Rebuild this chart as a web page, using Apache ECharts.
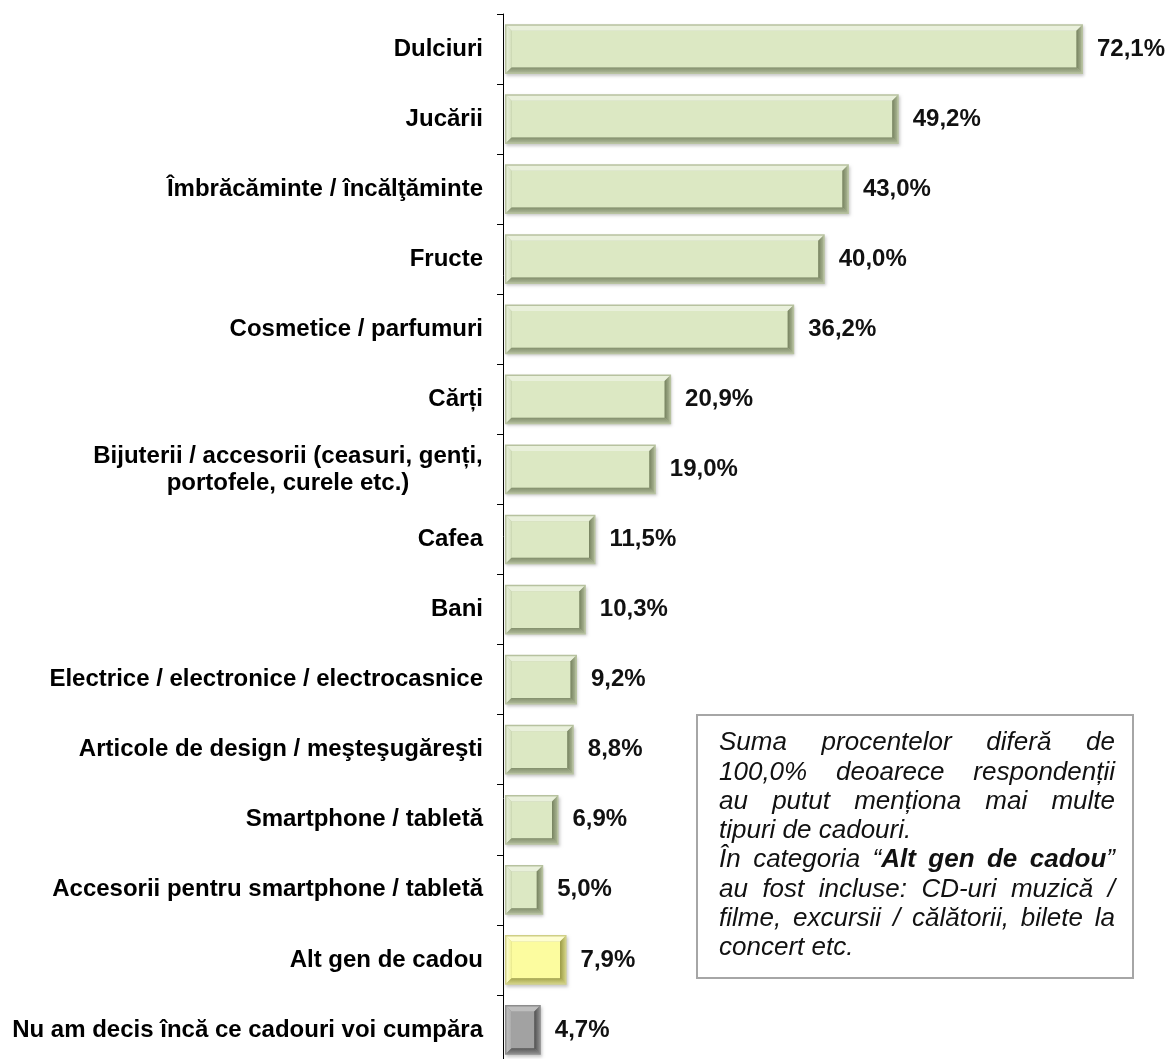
<!DOCTYPE html>
<html>
<head>
<meta charset="utf-8">
<script src="https://cdn.jsdelivr.net/npm/echarts@6/dist/echarts.min.js"></script>
<style>
  html, body { margin: 0; padding: 0; background: #fff; overflow: hidden; }
  #main { width: 1168px; height: 1059px; }
</style>
</head>
<body>
<div id="main"></div>
<script>
// categorii (de sus in jos)
var categories = [
  'Dulciuri',
  'Jucării',
  'Îmbrăcăminte / încălţăminte',
  'Fructe',
  'Cosmetice / parfumuri',
  'Cărți',
  'Bijuterii / accesorii (ceasuri, genți,\nportofele, curele etc.)',
  'Cafea',
  'Bani',
  'Electrice / electronice / electrocasnice',
  'Articole de design / meşteşugăreşti',
  'Smartphone / tabletă',
  'Accesorii pentru smartphone / tabletă',
  'Alt gen de cadou',
  'Nu am decis încă ce cadouri voi cumpăra'
]
var values = [72.1, 49.2, 43.0, 40.0, 36.2, 20.9, 19.0, 11.5, 10.3, 9.2, 8.8, 6.9, 5.0, 7.9, 4.7]

// textul din caseta (*...* = bold)
var noteLines = [
  'Suma procentelor diferă de',
  '100,0% deoarece respondenții',
  'au putut menționa mai multe',
  'tipuri de cadouri.',
  'În categoria “*Alt* *gen* *de* *cadou*”',
  'au fost incluse: CD-uri muzică /',
  'filme, excursii / călătorii, bilete la',
  'concert etc.'
]
var noteJustify = [true, true, true, false, true, true, true, false]

// culori bare
var palettes = {
  green: { frame: '#b7c29f', face: '#dce8c3', light: '#e9f0db', side: '#d3dfba', darkIn: '#76825f', darkOut: '#a7b290', bottomIn: '#838f6c', bottomOut: '#aab595' },
  yellow: { frame: '#cfcf86', face: '#fcfc9f', light: '#fefed2', side: '#f2f292', darkIn: '#9a9a45', darkOut: '#cbcb7a', bottomIn: '#a5a54e', bottomOut: '#cfcf80' },
  grey: { frame: '#8c8c8c', face: '#a2a2a2', light: '#bebebe', side: '#ababab', darkIn: '#505050', darkOut: '#858585', bottomIn: '#5a5a5a', bottomOut: '#888888' }
}
function paletteFor (name) {
  if (name === 'Alt gen de cadou') return palettes.yellow
  if (name.indexOf('Nu am decis') === 0) return palettes.grey
  return palettes.green
}
function fmt (v) {
  return v.toFixed(1).replace('.', ',') + '%'
}

var labelFont = 'Arial, "Liberation Sans"'
var ctx = document.createElement('canvas').getContext('2d')

var myChart = echarts.init(document.getElementById('main'))

function grad (x0, y0, x1, y1, c0, c1) {
  return new echarts.graphic.LinearGradient(x0, y0, x1, y1, [
    { offset: 0, color: c0 }, { offset: 1, color: c1 }
  ])
}

function renderBar (params, api) {
  var v = api.value(0)
  var idx = api.value(1)
  var start = api.coord([0, idx])
  var end = api.coord([v, idx])
  var h = api.size([0, 1])[1] * 0.71
  var X0 = start[0] + 2
  var X1 = end[0]
  var Y0 = start[1] - h / 2
  var Y1 = Y0 + h
  var x0 = X0 + 1.5
  var x1 = X1 - 1.5
  var y0 = Y0 + 1.5
  var y1 = Y1 - 1.5
  var b = 5
  var p = paletteFor(categories[idx])
  return {
    type: 'group',
    children: [
      { type: 'rect', shape: { x: X0, y: Y0, width: X1 - X0, height: h },
        style: { fill: p.frame, shadowBlur: 3, shadowColor: 'rgba(0,0,0,0.22)', shadowOffsetX: 1, shadowOffsetY: 2 } },
      { type: 'rect', shape: { x: x0 + b, y: y0 + b, width: x1 - x0 - 2 * b, height: y1 - y0 - 2 * b }, style: { fill: p.face } },
      { type: 'polygon', shape: { points: [[x0, y0], [x1, y0], [x1 - b, y0 + b], [x0 + b, y0 + b]] }, style: { fill: p.light } },
      { type: 'polygon', shape: { points: [[x0, y0], [x0 + b, y0 + b], [x0 + b, y1 - b], [x0, y1]] },
        style: { fill: grad(0, 0, 1, 0, p.light, p.side) } },
      { type: 'polygon', shape: { points: [[x1, y0], [x1, y1], [x1 - b, y1 - b], [x1 - b, y0 + b]] },
        style: { fill: grad(0, 0, 1, 0, p.darkIn, p.darkOut) } },
      { type: 'polygon', shape: { points: [[x0, y1], [x0 + b, y1 - b], [x1 - b, y1 - b], [x1, y1]] },
        style: { fill: grad(0, 0, 0, 1, p.bottomIn, p.bottomOut) } },
      { type: 'text', x: X1 + 14, y: start[1],
        style: { text: fmt(v), fontFamily: labelFont, fontSize: 24, fontWeight: 'bold', fill: '#111', align: 'left', verticalAlign: 'middle' } }
    ]
  }
}

// caseta de text justificata
var noteSize = 26
function measure (text, bold) {
  ctx.font = 'italic ' + (bold ? 'bold ' : '') + noteSize + 'px ' + labelFont
  return ctx.measureText(text).width
}
function parseWord (w) {
  var parts = w.split('*')
  var segs = []
  parts.forEach(function (t, i) {
    if (t) segs.push({ t: t, bold: i % 2 === 1 })
  })
  return segs
}
var noteLeft = 719
var noteRight = 1115
var noteTop = 743
var noteStep = 29.3
var noteGraphics = [{
  type: 'rect', shape: { x: 697, y: 715, width: 436, height: 263 },
  style: { fill: '#fff', stroke: '#a6a6a6', lineWidth: 2 }, z: 10
}]
noteLines.forEach(function (line, li) {
  var words = line.split(' ').map(parseWord)
  var widths = words.map(function (segs) {
    return segs.reduce(function (s, g) { return s + measure(g.t, g.bold) }, 0)
  })
  var total = widths.reduce(function (a, c) { return a + c }, 0)
  var gap = measure(' ', false)
  if (noteJustify[li] && words.length > 1) gap = (noteRight - noteLeft - total) / (words.length - 1)
  var x = noteLeft
  words.forEach(function (segs, wi) {
    var text = segs.map(function (g) {
      return '{' + (g.bold ? 'b' : 'n') + '|' + g.t + '}'
    }).join('')
    noteGraphics.push({
      type: 'text', x: x, y: noteTop + li * noteStep, z: 11,
      style: {
        text: text, align: 'left', verticalAlign: 'middle', fill: '#111',
        rich: {
          n: { fontFamily: labelFont, fontSize: noteSize, fontStyle: 'italic', fontWeight: 'normal' },
          b: { fontFamily: labelFont, fontSize: noteSize, fontStyle: 'italic', fontWeight: 'bold' }
        }
      }
    })
    x += widths[wi] + gap
  })
})

// eticheta pe doua randuri, centrata
ctx.font = 'bold 24px ' + labelFont
var multiWidth = 0
categories.forEach(function (c) {
  if (c.indexOf('\n') >= 0) {
    c.split('\n').forEach(function (l) { multiWidth = Math.max(multiWidth, ctx.measureText(l).width) })
  }
})

var option = {
  backgroundColor: '#fff',
  animation: false,
  grid: { left: 503, top: 14, width: 643.5, height: 1051, containLabel: false, outerBoundsMode: 'none' },
  xAxis: { type: 'value', min: 0, max: 80, show: false },
  yAxis: {
    type: 'category',
    data: categories,
    inverse: true,
    axisLine: { show: true, lineStyle: { color: '#000', width: 1 } },
    axisTick: { show: true, length: 6, inside: false, lineStyle: { color: '#000' } },
    axisLabel: {
      margin: 20,
      color: '#000',
      fontFamily: labelFont,
      fontSize: 24,
      fontWeight: 'bold',
      formatter: function (val) {
        if (val.indexOf('\n') < 0) return val
        return val.split('\n').map(function (l) {
          return '{c|' + l + '}'
        }).join('\n')
      },
      rich: {
        c: { align: 'center', width: Math.ceil(multiWidth), fontFamily: labelFont, fontSize: 24, fontWeight: 'bold', color: '#000', lineHeight: 27 }
      }
    }
  },
  series: [{
    type: 'custom',
    renderItem: renderBar,
    encode: { x: 0, y: 1 },
    data: values.map(function (v, i) { return [v, i] })
  }],
  graphic: noteGraphics
}
myChart.setOption(option)
</script>
</body>
</html>
